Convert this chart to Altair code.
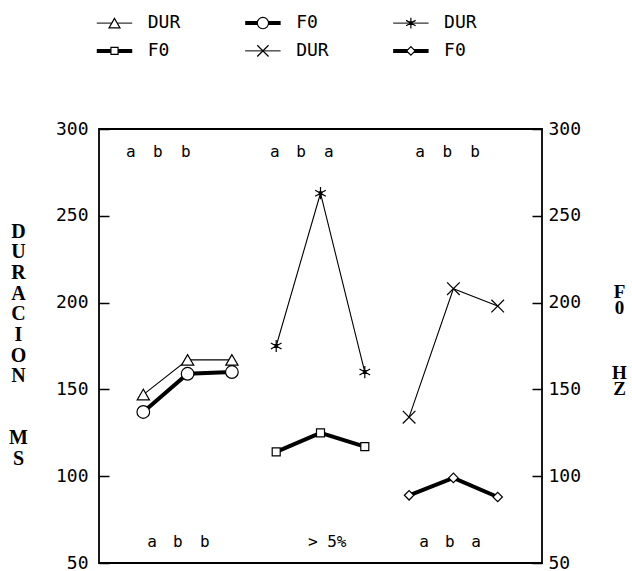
import altair as alt
import pandas as pd

# ---------------- data ----------------
group_x = [[1, 2, 3], [4, 5, 6], [7, 8, 9]]

dur_triangle = [147, 167, 167]   # left scale (ms)
f0_circle = [137, 159, 160]      # right scale (Hz)
dur_asterisk = [175, 263, 160]
f0_square = [114, 125, 117]
dur_cross = [134, 208, 198]
f0_diamond = [89, 99, 88]

top_letters = ["a", "b", "b", "a", "b", "a", "a", "b", "b"]
top_letter_x = [0.72, 1.33, 1.96, 3.97, 4.56, 5.19, 7.25, 7.86, 8.49]
bottom_letters = ["a", "b", "b", "> 5%", "a", "b", "a"]
bottom_letter_x = [1.2, 1.78, 2.39, 5.15, 7.34, 7.92, 8.51]

legend_labels = ["DUR", "F0", "DUR", "F0", "DUR", "F0"]
tick_values = [50, 100, 150, 200, 250, 300]

BL = "\u2800"   # blank (non-whitespace) line filler
left_title = ["D", "U", "R", "A", "C", "I", "O", "N", BL, BL, "M", "S"]
right_title = ["F", "0", BL, BL, BL, "H", "Z"]

# ---------------- symbols ----------------
ASTER = ("M0,-1L0,1M-0.87,-0.5L0.87,0.5M-0.87,0.5L0.87,-0.5"
         "M-0.22,-0.22L0.22,-0.22L0.22,0.22L-0.22,0.22Z")
XSHAPE = "M-1,-1L1,1M-1,1L1,-1"

series = [
    # name, values, group, shape, fill, kind, size
    ("tri", dur_triangle, 0, "triangle-up", "white", "DUR", 150),
    ("circ", f0_circle, 0, "circle", "white", "F0", 160),
    ("ast", dur_asterisk, 1, ASTER, "black", "DUR", 150),
    ("sq", f0_square, 1, "square", "white", "F0", 64),
    ("x", dur_cross, 2, XSHAPE, "white", "DUR", 160),
    ("dia", f0_diamond, 2, "diamond", "white", "F0", 90),
]

rows = []
for name, vals, g, shp, fill, kind, size in series:
    for xx, vv in zip(group_x[g], vals):
        rows.append(dict(s=name, x=xx, v=vv, shape=shp, fill=fill, kind=kind, size=size))
df = pd.DataFrame(rows)
dur_df = df[df.kind == "DUR"]
f0_df = df[df.kind == "F0"]

# legend table (row-major order, 3 columns)
legend_order = ["tri", "circ", "ast", "sq", "x", "dia"]
col_x0 = [-0.05, 3.30, 6.64]
row_v = [361, 345]
leg_rows = []
for i, name in enumerate(legend_order):
    s = [t for t in series if t[0] == name][0]
    r, c = divmod(i, 3)
    leg_rows.append(dict(
        x0=col_x0[c], x1=col_x0[c] + 0.8, xm=col_x0[c] + 0.4, xt=col_x0[c] + 1.15,
        v=row_v[r], label=legend_labels[i], shape=s[3], fill=s[4],
        sw=1.0 if s[5] == "DUR" else 4.0, size=s[6] * 0.8,
    ))
leg_df = pd.DataFrame(leg_rows)

top_df = pd.DataFrame(dict(x=top_letter_x, v=[287] * len(top_letters), t=top_letters))
bot_df = pd.DataFrame(dict(x=bottom_letter_x, v=[62] * len(bottom_letters), t=bottom_letters))

# ---------------- encodings ----------------
MONO = "DejaVu Sans Mono"
SERIF = "Liberation Serif"

xscale = alt.Scale(domain=[0, 10], nice=False, zero=False)
xenc = alt.X("x:Q", scale=xscale, axis=None)

left_axis = alt.Axis(
    orient="left", values=tick_values, offset=-10, tickSize=10, tickWidth=1.5,
    tickColor="black", domain=False, grid=False, labelPadding=11,
    labelFont=MONO, labelFontSize=18, labelColor="black",
    title=left_title, titleAngle=0, titleAlign="center", titleBaseline="top",
    titleX=-91, titleY=92, titleFont=SERIF, titleFontWeight="bold",
    titleFontSize=20, titleLineHeight=20.7, titleColor="black",
)
right_axis = alt.Axis(
    orient="right", values=tick_values, offset=-10, tickSize=10, tickWidth=1.5,
    tickColor="black", domain=False, grid=False, labelPadding=6,
    labelFont=MONO, labelFontSize=18, labelColor="black",
    title=right_title, titleAngle=0, titleAlign="center", titleBaseline="top",
    titleX=87, titleY=153, titleFont=SERIF, titleFontWeight="bold",
    titleFontSize=19, titleLineHeight=16.3, titleColor="black",
)
yscale = alt.Scale(domain=[50, 300], nice=False, zero=False)
yleft = alt.Y("v:Q", scale=yscale, axis=left_axis)
yright = alt.Y("v:Q", scale=yscale, axis=right_axis)

# ---------------- left-scale layers (DUR, annotations, legend) ----------------
dur_line = alt.Chart(dur_df).mark_line(color="black", strokeWidth=1.1).encode(
    x=xenc, y=yleft, detail="s:N")
dur_pts = alt.Chart(dur_df).mark_point(filled=True, stroke="black", strokeWidth=1.2,
                                       opacity=1).encode(
    x=xenc, y=yleft,
    shape=alt.Shape("shape:N", scale=None),
    fill=alt.Fill("fill:N", scale=None),
    size=alt.Size("size:Q", scale=None))

top_txt = alt.Chart(top_df).mark_text(font=MONO, fontSize=16, color="black",
                                      align="center", baseline="middle").encode(
    x=xenc, y=yleft, text="t:N")
bot_txt = alt.Chart(bot_df).mark_text(font=MONO, fontSize=16, color="black",
                                      align="center", baseline="middle").encode(
    x=xenc, y=yleft, text="t:N")

leg_line = alt.Chart(leg_df).mark_rule(color="black").encode(
    x=alt.X("x0:Q", scale=xscale, axis=None),
    x2="x1:Q", y=yleft, strokeWidth=alt.StrokeWidth("sw:Q", scale=None))
leg_pts = alt.Chart(leg_df).mark_point(filled=True, stroke="black", strokeWidth=1.2,
                                       opacity=1).encode(
    x=alt.X("xm:Q", scale=xscale, axis=None),
    y=yleft,
    shape=alt.Shape("shape:N", scale=None),
    fill=alt.Fill("fill:N", scale=None),
    size=alt.Size("size:Q", scale=None))
leg_txt = alt.Chart(leg_df).mark_text(font=MONO, fontSize=18, color="black",
                                      align="left", baseline="middle").encode(
    x=alt.X("xt:Q", scale=xscale, axis=None),
    y=yleft, text="label:N")

left_layer = alt.layer(dur_line, dur_pts, top_txt, bot_txt, leg_line, leg_pts, leg_txt)

# ---------------- right-scale layers (F0) ----------------
f0_line = alt.Chart(f0_df).mark_line(color="black", strokeWidth=4).encode(
    x=xenc, y=yright, detail="s:N")
f0_pts = alt.Chart(f0_df).mark_point(filled=True, stroke="black", strokeWidth=1.2,
                                     opacity=1).encode(
    x=xenc, y=yright,
    shape=alt.Shape("shape:N", scale=None),
    fill=alt.Fill("fill:N", scale=None),
    size=alt.Size("size:Q", scale=None))
right_layer = alt.layer(f0_line, f0_pts)

chart = alt.layer(left_layer, right_layer).resolve_scale(y="independent").properties(
    width=443, height=434,
    autosize=alt.AutoSizeParams(type="none"),
    padding={"left": 99, "top": 129, "right": 90, "bottom": 8},
    background="white",
).configure_view(stroke="black", strokeWidth=1.8)

chart.save("out.html", embed_options={"renderer": "svg", "actions": False})
